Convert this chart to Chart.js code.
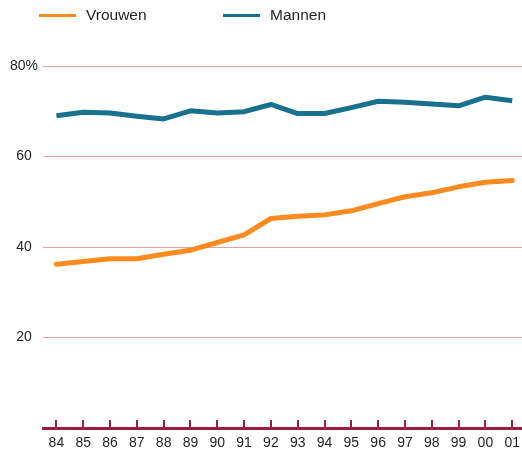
<!DOCTYPE html>
<html>
<head>
<meta charset="utf-8">
<script src="https://cdn.jsdelivr.net/npm/chart.js@4.4.1/dist/chart.umd.min.js"></script>
<style>
html,body{margin:0;padding:0;overflow:hidden;background:#fff;}
#wrap{position:relative;width:527px;height:449px;}
#legend{position:absolute;left:0;top:0;width:522px;height:32px;font-family:"Liberation Sans",Arial,sans-serif;font-size:15.5px;color:#231f20;}
.item{position:absolute;top:6px;height:18px;line-height:18px;white-space:nowrap;}
.sw{position:absolute;top:8px;width:37px;height:3px;}
.lab{position:absolute;left:47px;top:0;}
</style>
</head>
<body>
<div id="wrap">
  <canvas id="c" width="527" height="449"></canvas>
  <div id="legend"></div>
</div>
<script>
const categories = ['84','85','86','87','88','89','90','91','92','93','94','95','96','97','98','99','00','01'];
const vrouwen = [36.2,36.8,37.4,37.4,38.4,39.3,41.0,42.7,46.3,46.8,47.1,48.0,49.6,51.1,52.0,53.3,54.3,54.7];
const mannen  = [69.0,69.8,69.6,68.9,68.3,70.1,69.6,69.9,71.5,69.5,69.5,70.8,72.2,72.0,71.6,71.2,73.1,72.3];
const yTicks = [0,20,40,60,80];
const seriesNames = ['Vrouwen','Mannen'];
const seriesColors = ['#fb8a1f','#17718f'];

const axisColor = '#9c1c3c';

const upTicks = {
  id:'upTicks',
  afterDraw(chart){
    const xs = chart.scales.x, ctx = chart.ctx;
    const y = chart.chartArea.bottom;
    ctx.save();
    ctx.strokeStyle = axisColor;
    ctx.lineWidth = 2;
    for (let i=0;i<categories.length;i++){
      const x = Math.round(xs.getPixelForTick(i));
      ctx.beginPath();
      ctx.moveTo(x, y);
      ctx.lineTo(x, y-8);
      ctx.stroke();
    }
    ctx.restore();
  }
};

const chart = new Chart(document.getElementById('c'), {
  type:'line',
  data:{
    labels:categories,
    datasets:[
      {label:seriesNames[0], data:vrouwen, borderColor:seriesColors[0], backgroundColor:seriesColors[0], borderWidth:5, pointRadius:0, tension:0, borderCapStyle:'round', borderJoinStyle:'round'},
      {label:seriesNames[1], data:mannen, borderColor:seriesColors[1], backgroundColor:seriesColors[1], borderWidth:5, pointRadius:0, tension:0, borderCapStyle:'butt', borderJoinStyle:'round'}
    ]
  },
  options:{
    responsive:false,
    animation:false,
    layout:{padding:{top:66,left:0,right:0,bottom:0}},
    plugins:{legend:{display:false},tooltip:{enabled:false}},
    scales:{
      x:{
        offset:true,
        grid:{display:false,drawTicks:false},
        border:{display:true,color:axisColor,width:3},
        ticks:{padding:7,color:'#231f20',font:{family:'"Liberation Sans", Arial, sans-serif',size:14},maxRotation:0,autoSkip:false},
        afterFit(s){ s.height = 21; }
      },
      y:{
        min:0,max:80,
        afterBuildTicks(s){ s.ticks = yTicks.map(v=>({value:v})); },
        afterFit(s){ s.width = 43; },
        grid:{drawTicks:false,color:(c)=> c.tick && c.tick.value===0 ? 'rgba(0,0,0,0)' : '#dea3a3',lineWidth:1},
        border:{display:false},
        ticks:{padding:5,crossAlign:'center',color:'#231f20',font:{family:'"Liberation Sans", Arial, sans-serif',size:14},
          callback:(v)=> v===0 ? '' : (v===80 ? v+'%' : String(v))}
      }
    }
  },
  plugins:[upTicks]
});

// HTML legend built from chart datasets
const legendPos = [39,223];
const lg = document.getElementById('legend');
chart.data.datasets.forEach((ds,i)=>{
  const it = document.createElement('div');
  it.className='item';
  it.style.left = legendPos[i]+'px';
  const sw = document.createElement('div');
  sw.className='sw';
  sw.style.background = ds.borderColor;
  const lb = document.createElement('span');
  lb.className='lab';
  lb.textContent = ds.label;
  it.appendChild(sw); it.appendChild(lb);
  lg.appendChild(it);
});
</script>
</body>
</html>
